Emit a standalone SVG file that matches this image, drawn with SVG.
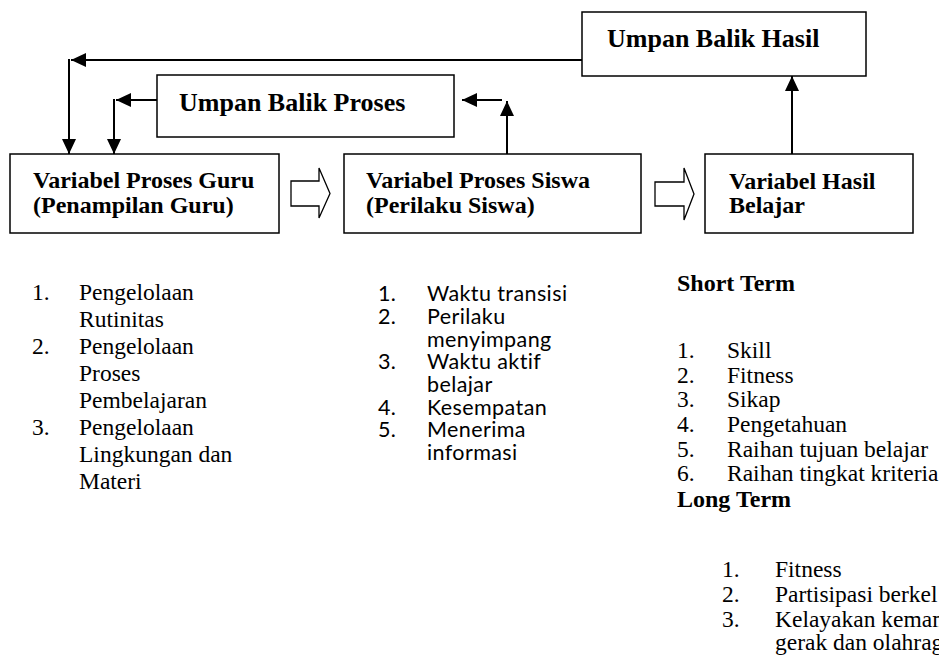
<svg xmlns="http://www.w3.org/2000/svg" width="939" height="664" viewBox="0 0 939 664">
<style>
.box{fill:#fff;stroke:#000;stroke-width:1.5}
.hollow{fill:#fff;stroke:#000;stroke-width:1.3;stroke-linejoin:miter}
.con{fill:none;stroke:#000;stroke-width:2}
.lb{font-family:"Liberation Serif","Times New Roman",serif;font-weight:bold;font-size:24px;fill:#000}
.lbb{font-family:"Liberation Serif","Times New Roman",serif;font-weight:bold;font-size:26px;fill:#000}
.tr{font-family:"Liberation Serif","Times New Roman",serif;font-size:23.5px;fill:#000}
.cal{font-family:Lato,"Open Sans",sans-serif;font-size:21.5px;letter-spacing:0.4px;font-variant-ligatures:none;fill:#000}
</style>
<defs>
<marker id="ah" viewBox="0 0 15 14" refX="15" refY="7" markerWidth="15" markerHeight="14" markerUnits="userSpaceOnUse" orient="auto">
<path d="M0,0 L15,7 L0,14 z" fill="#000"/>
</marker>
</defs>
<rect width="939" height="664" fill="#fff"/>

<g id="connectors">
<path class="con" d="M582,60 H71" marker-end="url(#ah)"/>
<path class="con" d="M69,59 V154" marker-end="url(#ah)"/>
<path class="con" d="M157,100 H116" marker-end="url(#ah)"/>
<path class="con" d="M114,99 V154" marker-end="url(#ah)"/>
<path class="con" d="M507,154 V101" marker-end="url(#ah)"/>
<path class="con" d="M502,100 H462" marker-end="url(#ah)"/>
<path class="con" d="M792,154 V76" marker-end="url(#ah)"/>
<polygon class="hollow" points="291,181 319,181 319,168 330,193.5 319,218 319,206 291,206"/>
<polygon class="hollow" points="655,182 684,182 684,168 694,194 684,220 684,206 655,206"/>
</g>

<g id="umpan-balik-hasil">
<rect class="box" x="582" y="12" width="284" height="64"/>
<text class="lbb" x="607" y="47">Umpan Balik Hasil</text>
</g>

<g id="umpan-balik-proses">
<rect class="box" x="157" y="75" width="297" height="62"/>
<text class="lbb" x="179" y="111">Umpan Balik Proses</text>
</g>

<g id="variabel-proses-guru">
<rect class="box" x="10" y="154" width="269" height="79"/>
<text class="lb" x="33" y="188">Variabel Proses Guru</text>
<text class="lb" x="33" y="213">(Penampilan Guru)</text>
</g>

<g id="variabel-proses-siswa">
<rect class="box" x="344" y="154" width="297" height="79"/>
<text class="lb" x="366" y="188">Variabel Proses Siswa</text>
<text class="lb" x="366" y="213">(Perilaku Siswa)</text>
</g>

<g id="variabel-hasil-belajar">
<rect class="box" x="705" y="154" width="208" height="79"/>
<text class="lb" x="729" y="189">Variabel Hasil</text>
<text class="lb" x="729" y="213">Belajar</text>
</g>

<g id="list-guru" class="tr">
<text x="32" y="300">1.</text><text x="79" y="300">Pengelolaan</text>
<text x="79" y="327">Rutinitas</text>
<text x="32" y="354">2.</text><text x="79" y="354">Pengelolaan</text>
<text x="79" y="381">Proses</text>
<text x="79" y="408">Pembelajaran</text>
<text x="32" y="435">3.</text><text x="79" y="435">Pengelolaan</text>
<text x="79" y="462">Lingkungan dan</text>
<text x="79" y="489">Materi</text>
</g>

<g id="list-siswa" class="cal">
<text x="378" y="301">1.</text><text x="427" y="301">Waktu transisi</text>
<text x="378" y="324">2.</text><text x="427" y="324">Perilaku</text>
<text x="427" y="347">menyimpang</text>
<text x="378" y="369">3.</text><text x="427" y="369">Waktu aktif</text>
<text x="427" y="392">belajar</text>
<text x="378" y="415">4.</text><text x="427" y="415">Kesempatan</text>
<text x="378" y="437">5.</text><text x="427" y="437">Menerima</text>
<text x="427" y="460">informasi</text>
</g>

<g id="list-hasil">
<text class="lb" x="677" y="291">Short Term</text>
<g class="tr">
<text x="677" y="358">1.</text><text x="727" y="358">Skill</text>
<text x="677" y="383">2.</text><text x="727" y="383">Fitness</text>
<text x="677" y="407">3.</text><text x="727" y="407">Sikap</text>
<text x="677" y="432">4.</text><text x="727" y="432">Pengetahuan</text>
<text x="677" y="457">5.</text><text x="727" y="457">Raihan tujuan belajar</text>
<text x="677" y="481">6.</text><text x="727" y="481">Raihan tingkat kriteria</text>
</g>
<text class="lb" x="677" y="507">Long Term</text>
<g class="tr">
<text x="722" y="577">1.</text><text x="775" y="577">Fitness</text>
<text x="722" y="602">2.</text><text x="775" y="602">Partisipasi berkel</text>
<text x="722" y="627">3.</text><text x="775" y="627">Kelayakan kemam</text>
<text x="775" y="650">gerak dan olahrag</text>
</g>
</g>
</svg>
